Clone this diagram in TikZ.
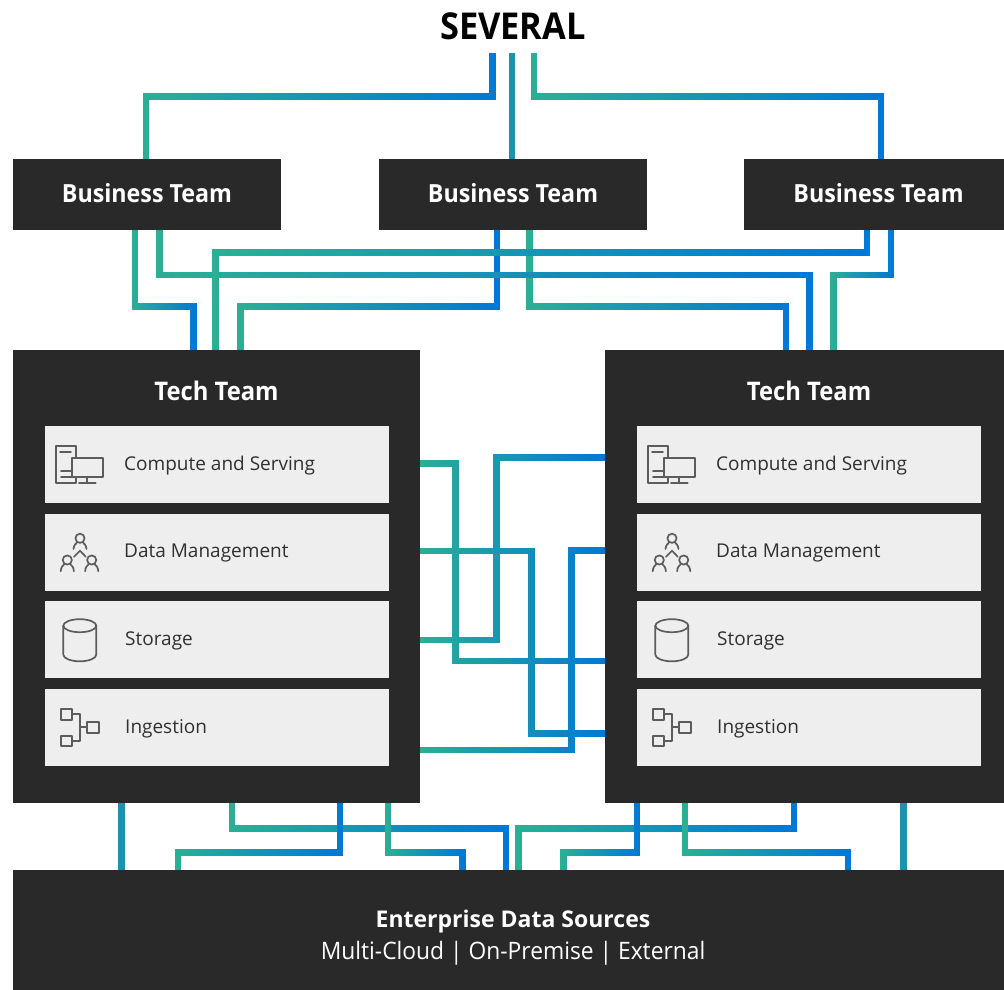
\documentclass[tikz,border=0pt]{standalone}
\usepackage{fontspec}
\setmainfont{Open Sans}
\newfontfamily\headfont{Open Sans}[FakeStretch=0.93]
\newfontfamily\subfont{Open Sans}[FakeStretch=0.95]
\usetikzlibrary{fadings}
\definecolor{panel}{HTML}{292929}
\definecolor{rowbg}{HTML}{EEEEEE}
\definecolor{gstart}{HTML}{2BB095}
\definecolor{gend}{HTML}{0078D7}
\definecolor{gmid}{HTML}{1A93AE}
\definecolor{icon}{HTML}{5C5C5C}
\definecolor{rowtext}{HTML}{303030}
\tikzfading[name=gfade,left color=transparent!0,right color=transparent!100]
\newcommand\fs[1]{\fontsize{#1}{#1}\selectfont}
\tikzset{
  box/.style={fill=panel,draw=none,inner sep=0pt,outer sep=0pt,anchor=north west,text=white,font=\headfont\fs{25}\bfseries},
  rowbox/.style={fill=rowbg,draw=none,inner sep=0pt,outer sep=0pt,anchor=north west,minimum width=344pt,minimum height=77pt},
  rowlabel/.style={anchor=west,inner sep=0pt,text=rowtext,font=\fs{19}},
  techtitle/.style={anchor=center,inner sep=0pt,text=white,font=\headfont\fs{25.6}\bfseries},
  wire/.style={line width=6.6pt,line cap=butt,line join=miter},
  straightwire/.style={wire,draw=gmid},
  iconline/.style={draw=icon,line width=1.7pt,line join=round,line cap=round},
  pics/compute/.style={code={
    \draw[iconline] (56.3,445.7) rectangle (75.7,483.3);
    \draw[iconline] (60,451.7) -- (71,451.7) (61,470.7) -- (72,470.7) (61,476.7) -- (72,476.7);
    \draw[iconline,fill=rowbg] (72,458) rectangle (102.7,476.7);
    \draw[iconline] (87.3,476.7) -- (87.3,483.3) (79,483.3) -- (95.7,483.3);
  }},
  pics/people/.style={code={
    \draw[iconline] (80,538.3) circle (4.6);
    \draw[iconline] (67.3,560) circle (4.6);
    \draw[iconline] (91.7,560) circle (4.6);
    \draw[iconline] (73.5,549) .. controls (73.8,545.5) and (75.5,543.5) .. (77,542.5) (86.5,549) .. controls (86.2,545.5) and (84.5,543.5) .. (83,542.5);
    \draw[iconline] (60.7,571.3) .. controls (61,567.5) and (62.5,565.3) .. (64.3,564.2) (73.9,571.3) .. controls (73.6,567.5) and (72.1,565.3) .. (70.3,564.2);
    \draw[iconline] (85.1,571.3) .. controls (85.4,567.5) and (86.9,565.3) .. (88.7,564.2) (98.3,571.3) .. controls (98,567.5) and (96.5,565.3) .. (94.7,564.2);
    \draw[iconline] (74,556.7) -- (80,550.7) -- (85.7,556.7);
  }},
  pics/cylinder/.style={code={
    \draw[iconline] (79.8,625.7) ellipse (16.5 and 6.5);
    \draw[iconline] (63.3,625.7) -- (63.3,654.5) .. controls (63.3,658.5) and (71,661.3) .. (79.8,661.3) .. controls (88.6,661.3) and (96.3,658.5) .. (96.3,654.5) -- (96.3,625.7);
  }},
  pics/flow/.style={code={
    \draw[iconline] (61,709) rectangle (72.3,719.7);
    \draw[iconline] (61,735.7) rectangle (72.3,746.3);
    \draw[iconline] (87.3,722) rectangle (98.7,732.7);
    \draw[iconline] (72.3,714.3) -- (80.3,714.3) -- (80.3,740.7) -- (72.3,740.7) (80.3,727.3) -- (87.3,727.3);
  }},
}
\newcommand\conn[1]{\draw[wire,draw=gend] #1; \draw[wire,draw=gstart,path fading=gfade] #1;}
\begin{document}
\begin{tikzpicture}[x=1pt,y=-1pt]
\useasboundingbox (0,0) rectangle (1004,990);
% boxes
\node[anchor=center,inner sep=0pt,text=black,font=\headfont\fs{37}\bfseries] (several) at (513,26) {SEVERAL};
\node[box,minimum width=268pt,minimum height=71pt] (bt1) at (13,159) {\raisebox{2.5pt}{Business Team}};
\node[box,minimum width=268pt,minimum height=71pt] (bt2) at (379,159) {\raisebox{2.5pt}{Business Team}};
\node[box,minimum width=260pt,minimum height=71pt] (bt3) at (744,159) {\hspace{9pt}\raisebox{2.5pt}{Business Team}};
\node[box,minimum width=407pt,minimum height=453pt] (tt1) at (13,350) {};
\node[box,minimum width=399pt,minimum height=453pt] (tt2) at (605,350) {};
\node[box,minimum width=991pt,minimum height=120pt] (eds) at (13,870) {};
\node[anchor=center,inner sep=0pt,text=white,font=\fs{23}\bfseries] (edstitle) at (513,922) {Enterprise Data Sources};
\node[anchor=center,inner sep=0pt,text=white,font=\subfont\fs{24}] (edssub) at (513,953) {Multi-Cloud | On-Premise | External};
\node[techtitle] (t1title) at (216.5,391) {Tech Team};
\node[techtitle] (t2title) at (809,391) {Tech Team};
% rows
\foreach \nm/\dx/\xt in {a/45/124,b/637/716} {
  \node[rowbox] (\nm row1) at (\dx,426) {};
  \node[rowbox] (\nm row2) at (\dx,514) {};
  \node[rowbox] (\nm row3) at (\dx,601) {};
  \node[rowbox] (\nm row4) at (\dx,689) {};
  \node[rowlabel] (\nm lab1) at (\xt,466) {Compute and Serving};
  \node[rowlabel] (\nm lab2) at (\xt,553) {Data Management};
  \node[rowlabel] (\nm lab3) at (\xt+1,641) {Storage};
  \node[rowlabel] (\nm lab4) at (\xt+1,729) {Ingestion};
}
\foreach \dx in {0,592} {
  \pic at (\dx,0) {compute};
  \pic at (\dx,0) {people};
  \pic at (\dx,0) {cylinder};
  \pic at (\dx,0) {flow};
}
% ports
\coordinate (s1) at (492.5,53);
\coordinate (s2) at (512,53);
\coordinate (s3) at (534,53);
\coordinate (b1n) at (146,159);
\coordinate (b2n) at (512,159);
\coordinate (b3n) at (881,159);
\coordinate (b1a) at (135,230);
\coordinate (b1b) at (159.4,230);
\coordinate (b2a) at (497,230);
\coordinate (b2b) at (529.5,230);
\coordinate (b3a) at (867,230);
\coordinate (b3b) at (891,230);
\coordinate (t1a) at (193.4,350);
\coordinate (t1b) at (215.8,350);
\coordinate (t1c) at (240.7,350);
\coordinate (t2a) at (786,350);
\coordinate (t2b) at (809.3,350);
\coordinate (t2c) at (833.7,350);
\coordinate (l1) at (420,463.3);
\coordinate (l2) at (420,551);
\coordinate (l3) at (420,640);
\coordinate (l4) at (420,750);
\coordinate (r1) at (605,457.3);
\coordinate (r2) at (605,550.7);
\coordinate (r3) at (605,661);
\coordinate (r4) at (605,733.3);
\coordinate (u1) at (121.7,803);
\coordinate (u2) at (231.8,803);
\coordinate (u3) at (340,803);
\coordinate (u4) at (388,803);
\coordinate (u5) at (637,803);
\coordinate (u6) at (685,803);
\coordinate (u7) at (794,803);
\coordinate (u8) at (903.5,803);
\coordinate (e1) at (121.7,870);
\coordinate (e2) at (178,870);
\coordinate (e3) at (462.3,870);
\coordinate (e4) at (506,870);
\coordinate (e5) at (518.6,870);
\coordinate (e6) at (563.5,870);
\coordinate (e7) at (847.8,870);
\coordinate (e8) at (903.5,870);
% top connectors
\conn{(s1) -- ++(0,43.7) -| (b1n)}
\draw[straightwire] (s2) -- (b2n);
\conn{(s3) -- ++(0,43.7) -| (b3n)}
% business to tech
\conn{(b1a) -- ++(0,76.7) -| (t1a)}
\conn{(b2a) -- ++(0,76.7) -| (t1c)}
\conn{(b2b) -- ++(0,76.7) -| (t2a)}
\conn{(b3b) -- ++(0,45) -| (t2c)}
\conn{(b1b) -- ++(0,45) -| (t2b)}
\conn{(b3a) -- ++(0,22.7) -| (t1b)}
% between tech teams
\conn{(l3) -| (r1 -| 496.3,0) |- (r1)}
\conn{(l2) -| (r4 -| 531.3,0) |- (r4)}
\conn{(l1) -| (r3 -| 455.7,0) |- (r3)}
\conn{(l4) -| (r2 -| 571.3,0) |- (r2)}
% tech to sources
\draw[straightwire] (u1) -- (e1);
\conn{(u2) -- ++(0,25.7) -| (e4)}
\conn{(u3) -- ++(0,49.3) -| (e2)}
\conn{(u4) -- ++(0,49.3) -| (e3)}
\conn{(u7) -- ++(0,25.7) -| (e5)}
\conn{(u5) -- ++(0,49.3) -| (e6)}
\conn{(u6) -- ++(0,49.3) -| (e7)}
\draw[straightwire] (u8) -- (e8);
\end{tikzpicture}
\end{document}
